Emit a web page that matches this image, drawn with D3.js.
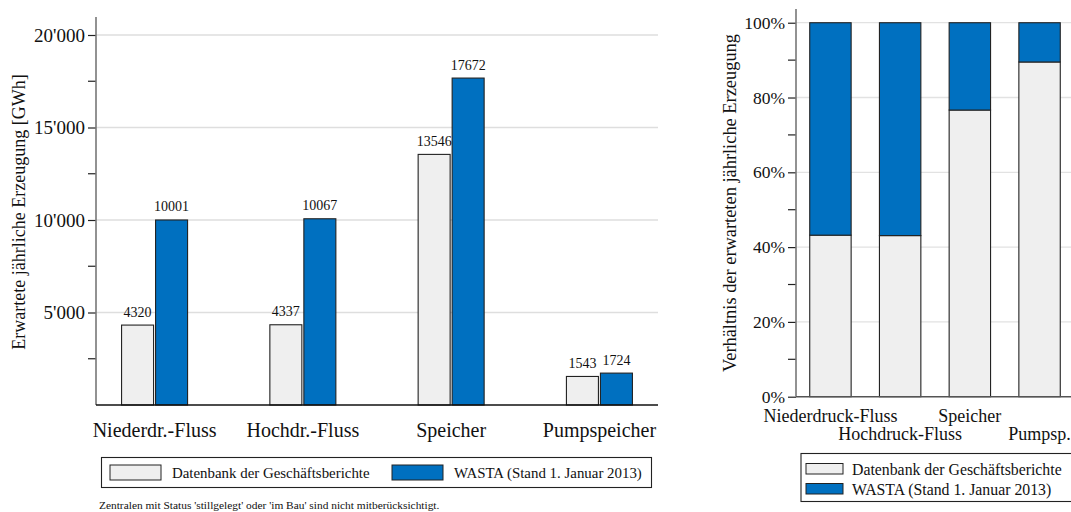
<!DOCTYPE html>
<html><head><meta charset="utf-8">
<script src="https://cdn.jsdelivr.net/npm/d3@7"></script>
<style>
body{margin:0;background:#fff;}
svg{display:block;}
text{font-family:"Liberation Serif","Times New Roman",serif;fill:#111;}
</style></head>
<body><svg id="c" width="1071" height="512"></svg>
<script>
const categories = ["Niederdr.-Fluss","Hochdr.-Fluss","Speicher","Pumpspeicher"];
const categoriesLong = ["Niederdruck-Fluss","Hochdruck-Fluss","Speicher","Pumpsp."];
const seriesNames = ["Datenbank der Geschäftsberichte","WASTA (Stand 1. Januar 2013)"];
const dbValues = [4320, 4337, 13546, 1543];
const wastaValues = [10001, 10067, 17672, 1724];
const yTicksLeft = [5000, 10000, 15000, 20000];
const yMinorLeft = [2500, 7500, 12500, 17500];
const yTicksRight = [0, 0.2, 0.4, 0.6, 0.8, 1.0];
const yMinorRight = [0.1, 0.3, 0.5, 0.7, 0.9];
const footnote = "Zentralen mit Status 'stillgelegt' oder 'im Bau' sind nicht mitberücksichtigt.";
const colors = ["#efefef", "#0070c0"];

const svg = d3.select("#c");
const fmt = d => d3.format(",")(d).replace(/,/g, "'");
const SERIF = '"Liberation Serif","Times New Roman",serif';

// ---------- Left chart ----------
const L = {x0: 96, x1: 658, y0: 405, yTop: 17};
const yL = d3.scaleLinear().domain([0, 20973]).range([L.y0, L.yTop]);
const xL = d3.scalePoint().domain(categories).range([L.x0, L.x1]).padding(0.395);
const bw = 32, gap = 2;

const gL = svg.append("g");
gL.selectAll("line.grid").data(yTicksLeft).join("line")
  .attr("x1", L.x0).attr("x2", L.x1).attr("y1", d => yL(d)).attr("y2", d => yL(d))
  .attr("stroke", "#dedede").attr("stroke-width", 1.3);

const axL = gL.append("g").attr("transform", `translate(${L.x0},0)`)
  .call(d3.axisLeft(yL).tickValues(yTicksLeft).tickFormat(fmt).tickSize(8).tickPadding(3));
axL.select(".domain").remove();
axL.selectAll(".tick line").attr("stroke", "#222").attr("stroke-width", 1.2);
axL.selectAll(".tick text").style("font-family", SERIF).style("font-size", "19px").attr("fill", "#111");
gL.selectAll("line.minor").data(yMinorLeft).join("line")
  .attr("x1", L.x0 - 8).attr("x2", L.x0).attr("y1", d => yL(d)).attr("y2", d => yL(d))
  .attr("stroke", "#222").attr("stroke-width", 1.2);
gL.append("line").attr("x1", L.x0).attr("x2", L.x0).attr("y1", L.yTop).attr("y2", L.y0)
  .attr("stroke", "#777").attr("stroke-width", 1.6);

const series = [dbValues, wastaValues];
series.forEach((vals, si) => {
  const xOf = (i) => xL(categories[i]) + (si === 0 ? -bw - gap/2 : gap/2);
  gL.selectAll(`rect.s${si}`).data(vals).join("rect")
    .attr("x", (d, i) => xOf(i)).attr("width", bw)
    .attr("y", d => yL(d)).attr("height", d => L.y0 - yL(d))
    .attr("fill", colors[si]).attr("stroke", "#222").attr("stroke-width", 1.1);
  gL.selectAll(`text.v${si}`).data(vals).join("text")
    .attr("x", (d, i) => xOf(i) + bw/2).attr("y", d => yL(d) - 8.5)
    .attr("text-anchor", "middle").style("font-size", "14px").text(d => d);
});
gL.append("line").attr("x1", L.x0).attr("x2", L.x1).attr("y1", L.y0).attr("y2", L.y0)
  .attr("stroke", "#111").attr("stroke-width", 1.3);

gL.selectAll("text.cat").data(categories).join("text")
  .attr("x", d => xL(d)).attr("y", 437).attr("text-anchor", "middle")
  .style("font-size", "20px").text(d => d);

gL.append("text").attr("transform", `translate(25,212) rotate(-90)`)
  .attr("text-anchor", "middle").style("font-size", "18px")
  .text("Erwartete jährliche Erzeugung [GWh]");

// legend left
const lg = gL.append("g");
lg.append("rect").attr("x", 101.5).attr("y", 457.5).attr("width", 550).attr("height", 30)
  .attr("fill", "#fff").attr("stroke", "#222").attr("stroke-width", 1.1);
const lgX = [110, 392];
seriesNames.forEach((n, i) => {
  lg.append("rect").attr("x", lgX[i]).attr("y", 465).attr("width", 51).attr("height", 15)
    .attr("fill", colors[i]).attr("stroke", "#222").attr("stroke-width", 1);
  lg.append("text").attr("x", lgX[i] + 62).attr("y", 477.5).style("font-size", "14.9px").text(n);
});
svg.append("text").attr("x", 99).attr("y", 509).style("font-size", "11.4px").text(footnote);

// ---------- Right chart ----------
const R = {x0: 796, x1: 1074, y0: 396.7, yTop: 9};
const ratios = dbValues.map((d, i) => d / wastaValues[i]);
const yR = d3.scaleLinear().domain([0, 1.0367]).range([R.y0, R.yTop]);
const xR = d3.scaleBand().domain(categoriesLong).range([R.x0, R.x1]).paddingInner(0.406).paddingOuter(0.197);
const gR = svg.append("g");
gR.selectAll("line.grid").data(yTicksRight.slice(1)).join("line")
  .attr("x1", R.x0).attr("x2", 1071).attr("y1", d => yR(d)).attr("y2", d => yR(d))
  .attr("stroke", "#e2e2e2").attr("stroke-width", 1.3);
const axR = gR.append("g").attr("transform", `translate(${R.x0},0)`)
  .call(d3.axisLeft(yR).tickValues(yTicksRight).tickFormat(d3.format(".0%")).tickSize(8).tickPadding(3));
axR.select(".domain").remove();
axR.selectAll(".tick line").attr("stroke", "#222").attr("stroke-width", 1.2);
axR.selectAll(".tick text").style("font-family", SERIF).style("font-size", "17.5px").attr("fill", "#111");
gR.selectAll("line.minor").data(yMinorRight).join("line")
  .attr("x1", R.x0 - 8).attr("x2", R.x0).attr("y1", d => yR(d)).attr("y2", d => yR(d))
  .attr("stroke", "#222").attr("stroke-width", 1.2);
gR.append("line").attr("x1", R.x0).attr("x2", R.x0).attr("y1", R.yTop).attr("y2", R.y0)
  .attr("stroke", "#777").attr("stroke-width", 1.6);

gR.selectAll("rect.b0").data(ratios).join("rect")
  .attr("x", (d, i) => xR(categoriesLong[i])).attr("width", xR.bandwidth())
  .attr("y", d => yR(d)).attr("height", d => R.y0 - yR(d))
  .attr("fill", colors[0]).attr("stroke", "#222").attr("stroke-width", 1.1);
gR.selectAll("rect.b1").data(ratios).join("rect")
  .attr("x", (d, i) => xR(categoriesLong[i])).attr("width", xR.bandwidth())
  .attr("y", d => yR(1)).attr("height", d => yR(d) - yR(1))
  .attr("fill", colors[1]).attr("stroke", "#222").attr("stroke-width", 1.1);
gR.append("line").attr("x1", R.x0).attr("x2", 1071).attr("y1", R.y0).attr("y2", R.y0)
  .attr("stroke", "#555").attr("stroke-width", 1.5);

gR.selectAll("text.cat").data(categoriesLong).join("text")
  .attr("x", d => xR(d) + xR.bandwidth()/2).attr("y", (d, i) => i % 2 === 0 ? 421.5 : 440)
  .attr("text-anchor", "middle").style("font-size", "18px").text(d => d);

gR.append("text").attr("transform", `translate(736,203) rotate(-90)`)
  .attr("text-anchor", "middle").style("font-size", "18.4px")
  .text("Verhältnis der erwarteten jährliche Erzeugung");

const lgR = gR.append("g");
lgR.append("rect").attr("x", 801).attr("y", 453.5).attr("width", 275).attr("height", 48)
  .attr("fill", "#fff").attr("stroke", "#222").attr("stroke-width", 1.1);
seriesNames.forEach((n, i) => {
  lgR.append("rect").attr("x", 806).attr("y", 463.5 + i*20).attr("width", 37).attr("height", 10.5)
    .attr("fill", colors[i]).attr("stroke", "#222").attr("stroke-width", 1);
  lgR.append("text").attr("x", 852).attr("y", 475 + i*20).style("font-size", "15.8px").text(n);
});
</script></body></html>
